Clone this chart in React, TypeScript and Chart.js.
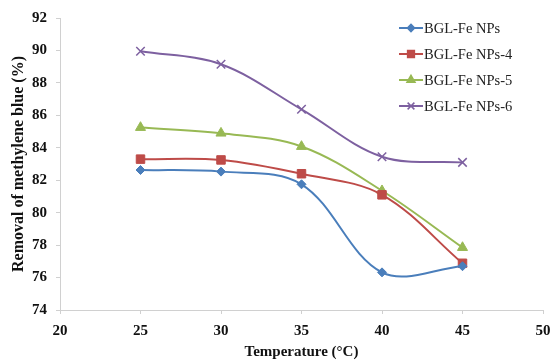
import React, { useEffect, useRef } from "react";
import { Chart, registerables } from "chart.js";
import { drawPoint } from "chart.js/helpers";

Chart.register(...registerables);

const temperatures = [25, 30, 35, 40, 45];
const seriesNames = ["BGL-Fe NPs", "BGL-Fe NPs-4", "BGL-Fe NPs-5", "BGL-Fe NPs-6"];
const bglFe = [82.63, 82.53, 81.75, 76.32, 76.7];
const bglFe4 = [83.3, 83.25, 82.4, 81.1, 76.88];
const bglFe5 = [85.25, 84.9, 84.08, 81.35, 77.85];
const bglFe6 = [89.95, 89.15, 86.37, 83.45, 83.1];
const yTicks = [74, 76, 78, 80, 82, 84, 86, 88, 90, 92];
const xTicks = [20, 25, 30, 35, 40, 45, 50];

const colors = ["#4A7EBB", "#BE4B48", "#98B954", "#7D60A0"];
const pointStyles = ["rectRot", "rect", "triangle", "crossRot"];
const pointRadii = [4.5, 6, 5.8, 6];

const legendPlugin = {
  id: "customLegend",
  afterDraw(chart: any) {
    const ctx = chart.ctx;
    ctx.save();
    const x0 = 399;
    const x1 = 423;
    const rows = [28, 54, 80, 106];
    chart.data.datasets.forEach((ds: any, i: number) => {
      const y = rows[i];
      ctx.strokeStyle = ds.borderColor;
      ctx.lineWidth = 2;
      ctx.beginPath();
      ctx.moveTo(x0, y);
      ctx.lineTo(x1, y);
      ctx.stroke();
      ctx.fillStyle = ds.pointBackgroundColor;
      ctx.strokeStyle = ds.pointBorderColor;
      ctx.lineWidth = 1.5;
      drawPoint(ctx, { pointStyle: ds.pointStyle, radius: ds.pointRadius * 0.8, rotation: 0, borderWidth: 1.5 }, (x0 + x1) / 2, y);
      ctx.fillStyle = "#222";
      ctx.font = "14.5px 'Liberation Serif', 'Times New Roman', serif";
      ctx.textBaseline = "middle";
      ctx.textAlign = "left";
      ctx.fillText(ds.label, x1 + 1, y + 1);
    });
    ctx.restore();
  },
};

export default function App() {
  const ref = useRef<HTMLCanvasElement | null>(null);
  useEffect(() => {
    const seriesValues = [bglFe, bglFe4, bglFe5, bglFe6];
    const datasets = seriesNames.map((name, i) => ({
      label: name,
      data: temperatures.map((t, j) => ({ x: t, y: seriesValues[i][j] })),
      borderColor: colors[i],
      backgroundColor: colors[i],
      pointBackgroundColor: colors[i],
      pointBorderColor: colors[i],
      pointStyle: pointStyles[i],
      pointRadius: pointRadii[i],
      pointBorderWidth: i === 3 ? 1.5 : 1,
      borderWidth: 2,
      tension: 0.35,
      fill: false,
    }));
    const serif = "'Liberation Serif', 'Times New Roman', serif";
    const chart = new Chart(ref.current!, {
      type: "line",
      data: { datasets },
      plugins: [legendPlugin],
      options: {
        animation: false,
        responsive: false,
        layout: { padding: { top: 18, right: 10, left: 0, bottom: 0 } },
        plugins: { legend: { display: false }, tooltip: { enabled: false } },
        scales: {
          x: {
            type: "linear",
            min: 20,
            max: 50,
            afterBuildTicks: (s: any) => {
              s.ticks = xTicks.map((v) => ({ value: v }));
            },
            afterFit: (s: any) => {
              s.height = 50;
              s.paddingRight = 0;
              s.paddingLeft = 0;
            },
            grid: { drawOnChartArea: false, color: "#d0d0d0", tickLength: 4 },
            border: { color: "#d0d0d0", width: 1 },
            ticks: {
              color: "#111",
              padding: 8,
              font: { family: serif, size: 15, weight: "bold" },
            },
            title: {
              display: true,
              text: "Temperature (°C)",
              color: "#111",
              font: { family: serif, size: 15, weight: "bold", lineHeight: 1 },
              padding: { top: 1, bottom: 0 },
            },
          },
          y: {
            type: "linear",
            min: 74,
            max: 92,
            afterBuildTicks: (s: any) => {
              s.ticks = yTicks.map((v) => ({ value: v }));
            },
            afterFit: (s: any) => {
              s.width = 60;
            },
            grid: { drawOnChartArea: false, color: "#d0d0d0", tickLength: 4 },
            border: { color: "#d0d0d0", width: 1 },
            ticks: {
              color: "#111",
              padding: 9,
              font: { family: serif, size: 15, weight: "bold" },
            },
            title: {
              display: true,
              text: "Removal of methylene blue (%)",
              color: "#111",
              font: { family: serif, size: 16, weight: "bold", lineHeight: 1.2 },
              padding: { top: 9, bottom: 0 },
            },
          },
        },
      },
    });
    return () => chart.destroy();
  }, []);
  return (
    <div style={{ position: "absolute", left: 0, top: 0, width: 553, height: 360, background: "#fff" }}>
      <canvas ref={ref} width={553} height={360} style={{ display: "block" }} />
    </div>
  );
}
